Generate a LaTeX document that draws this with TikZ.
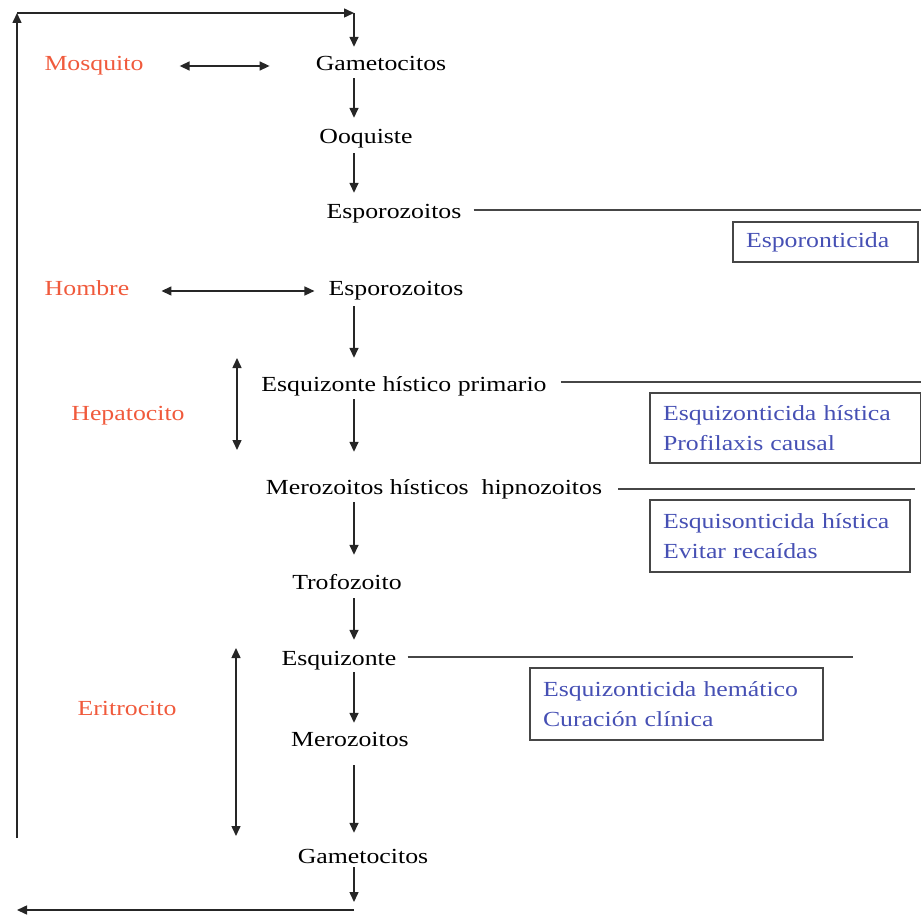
\documentclass[tikz,border=0pt]{standalone}
\usepackage{fontspec}
\setmainfont{Liberation Serif}[FakeStretch=1.2]
\usetikzlibrary{arrows.meta}
\definecolor{redt}{RGB}{240,90,60}
\definecolor{bluet}{RGB}{70,80,180}
\definecolor{linec}{RGB}{70,70,70}
\begin{document}
\begin{tikzpicture}[x=1pt,y=-1pt,
  font=\fontsize{21.5}{30}\selectfont,
  lbl/.style={inner sep=0pt, text height=14pt, text depth=4pt},
  stage/.style={lbl, text=black},
  host/.style={lbl, text=redt},
  tip/.tip={Triangle[length=10pt,width=9pt]},
  arr/.style={-tip, line width=1.5pt, draw=black!85},
  darr/.style={tip-tip, line width=1.5pt, draw=black!85},
  sep/.style={draw=linec, line width=1.6pt},
  drug/.style={draw=linec, line width=1.8pt, text=bluet, align=left,
    inner xsep=13pt, inner ysep=0pt}]
\useasboundingbox (0,0) rectangle (921,917);
\coordinate (col) at (354,0);
\coordinate (topL) at (17,13);
\coordinate (topR) at (354,13);
\coordinate (leftB) at (17,838);
\coordinate (botR) at (354,910);
\coordinate (botL) at (17,910);
\coordinate (hepT) at (237,358);
\coordinate (hepB) at (237,450);
\coordinate (eriT) at (236,648);
\coordinate (eriB) at (236,836);
% stages
\node[stage] (gam1) at (381,66) {Gametocitos};
\node[stage] (ooq) at (366,139) {Ooquiste};
\node[stage] (esp1) at (394,214) {Esporozoitos};
\node[stage] (esp2) at (396,291) {Esporozoitos};
\node[stage] (ehp) at (404,386) {Esquizonte hístico primario};
\node[stage] (mh) at (434,489) {Merozoitos hísticos\ \ hipnozoitos};
\node[stage] (trof) at (347,584) {Trofozoito};
\node[stage] (esq) at (339,660) {Esquizonte};
\node[stage] (mero) at (350,741) {Merozoitos};
\node[stage] (gam2) at (363,858) {Gametocitos};
% hosts
\node[host] (mosq) at (94,66) {Mosquito};
\node[host] (homb) at (87,291) {Hombre};
\node[host] (hep) at (128,415) {Hepatocito};
\node[host] (eri) at (127,710) {Eritrocito};
% drug boxes
\node[drug, minimum width=185pt, minimum height=40pt, text width=159pt] (b1) at (825.5,242) {Esporonticida};
\node[drug, minimum width=271pt, minimum height=70pt, text width=245pt] (b2) at (785.5,428) {Esquizonticida hística\\Profilaxis causal};
\node[drug, minimum width=260pt, minimum height=72pt, text width=234pt] (b3) at (780,536) {Esquisonticida hística\\Evitar recaídas};
\node[drug, minimum width=293pt, minimum height=72pt, text width=267pt] (b4) at (676.5,704) {Esquizonticida hemático\\Curación clínica};
% cycle loop
\draw[arr] (leftB) -- (topL);
\draw[arr] (topL) -- (topR);
\draw[arr, shorten >=10pt] (topR) -- (gam1.north -| col);
\draw[arr, shorten >=8pt] (gam2.south -| col) -- (botR);
\draw[arr] (botR) -- (botL);
% main chain
\draw[arr, shorten <=3pt, shorten >=12pt] (gam1.south -| col) -- (ooq.north -| col);
\draw[arr, shorten <=5pt, shorten >=12pt] (ooq.south -| col) -- (esp1.north -| col);
\draw[arr, shorten <=6pt, shorten >=19pt] (esp2.south -| col) -- (ehp.north -| col);
\draw[arr, shorten <=4pt, shorten >=28pt] (ehp.south -| col) -- (mh.north -| col);
\draw[arr, shorten <=4pt, shorten >=20pt] (mh.south -| col) -- (trof.north -| col);
\draw[arr, shorten <=5pt, shorten >=11pt] (trof.south -| col) -- (esq.north -| col);
\draw[arr, shorten <=3pt, shorten >=9pt] (esq.south -| col) -- (mero.north -| col);
\draw[arr, shorten <=15pt, shorten >=16pt] (mero.south -| col) -- (gam2.north -| col);
% host arrows
\draw[darr, shorten <=36pt, shorten >=46pt] (mosq.east) -- (mosq.east -| gam1.west);
\draw[darr, shorten <=32pt, shorten >=14pt] (homb.east) -- (homb.east -| esp2.west);
\draw[darr] (hepT) -- (hepB);
\draw[darr] (eriT) -- (eriB);
% separator lines
\draw[sep, shorten <=12pt] ([yshift=4pt]esp1.east) -- ([yshift=4pt]esp1.east -| 921,0);
\draw[sep, shorten <=14pt] ([yshift=4pt]ehp.east) -- ([yshift=4pt]ehp.east -| 921,0);
\draw[sep, shorten <=16pt] (mh.east) -- (mh.east -| 915,0);
\draw[sep, shorten <=11pt] ([yshift=3pt]esq.east) -- ([yshift=3pt]esq.east -| 853,0);
\end{tikzpicture}
\end{document}
